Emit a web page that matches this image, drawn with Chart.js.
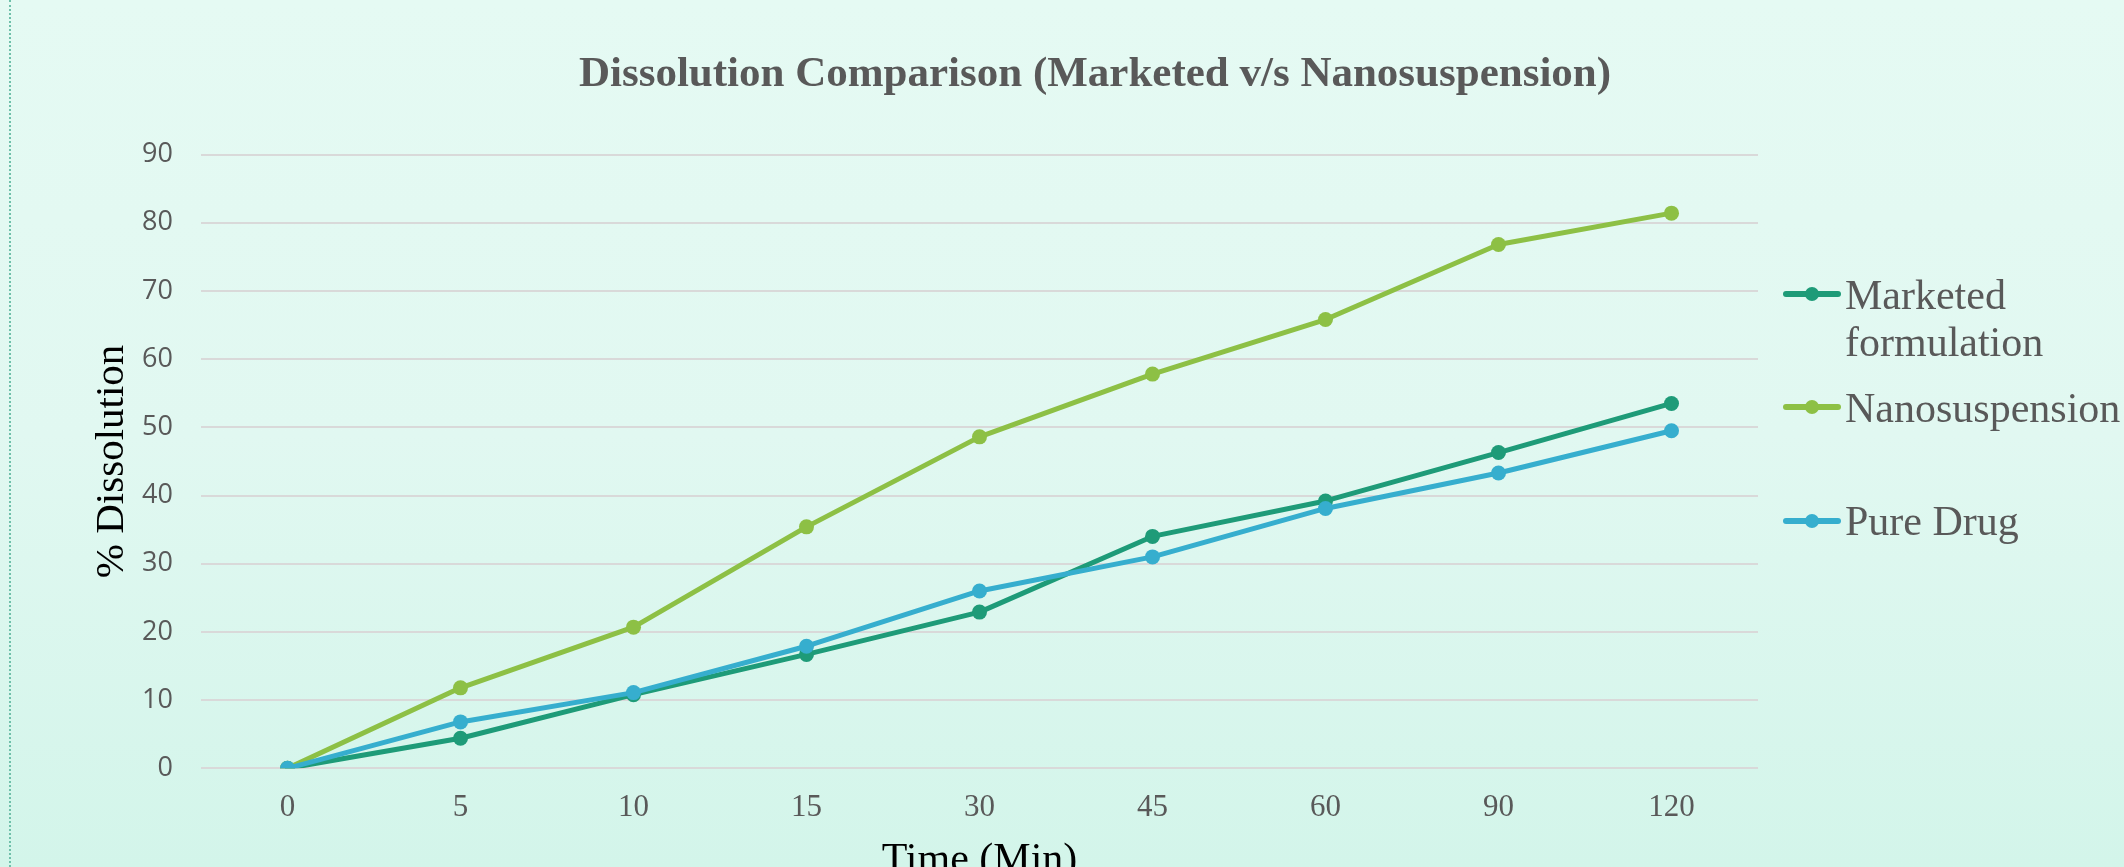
<!DOCTYPE html>
<html>
<head>
<meta charset="utf-8">
<script src="https://cdn.jsdelivr.net/npm/chart.js@4.4.1/dist/chart.umd.min.js"></script>
<style>
  html, body { margin: 0; padding: 0; overflow: hidden; }
  body { width: 2124px; height: 867px; background: linear-gradient(to bottom, #e5faf3 0%, #e1f8f1 50%, #d3f5ea 100%); position: relative; }
  #wrap { position: absolute; left: 0; top: 0; width: 2124px; height: 867px; }
  #edge { position: absolute; left: 9px; top: 0; height: 867px; border-left: 2px dotted #6fc0aa; }
</style>
</head>
<body>
<div id="edge"></div>
<div id="wrap"><canvas id="c"></canvas></div>
<script>
const chartTitle = 'Dissolution Comparison (Marketed v/s Nanosuspension)';
const xAxisTitle = 'Time (Min)';
const yAxisTitle = '% Dissolution';
const categories = ['0', '5', '10', '15', '30', '45', '60', '90', '120'];
const seriesNames = ['Marketed formulation', 'Nanosuspension', 'Pure Drug'];
const legendLines = [['Marketed', 'formulation'], ['Nanosuspension'], ['Pure Drug']];
const marketed = [0, 4.4, 10.8, 16.7, 22.9, 34.0, 39.2, 46.3, 53.5];
const nano = [0, 11.8, 20.7, 35.4, 48.6, 57.8, 65.8, 76.8, 81.4];
const pure = [0, 6.8, 11.1, 17.9, 26.0, 31.0, 38.1, 43.3, 49.5];
const yTicks = [0, 10, 20, 30, 40, 50, 60, 70, 80, 90];
const colors = ['#1e9b78', '#8dc045', '#36aece'];

const serif = '"Liberation Serif", "Times New Roman", serif';
const sans = '"Open Sans", "Noto Sans", sans-serif';
const grey = '#595959';

function ds(label, data, color, order) {
  return {
    label, data, order,
    borderColor: color, backgroundColor: color,
    pointBackgroundColor: color, pointBorderColor: color,
    borderWidth: 5, pointRadius: 7.5, pointBorderWidth: 0,
    pointHoverRadius: 7.5, tension: 0, fill: false,
    borderCapStyle: 'round', borderJoinStyle: 'round'
  };
}

const titlePlugin = {
  id: 'titleAndLegend',
  afterDraw(chart) {
    const ctx = chart.ctx;
    ctx.save();
    ctx.fillStyle = grey;
    ctx.font = 'bold 43px ' + serif;
    ctx.textAlign = 'center';
    ctx.textBaseline = 'alphabetic';
    ctx.fillText(chartTitle, 1095, 86);

    // legend
    const markerY = [294, 407, 521];
    const baseY = [309, 422, 535];
    ctx.font = '42px ' + serif;
    ctx.textAlign = 'left';
    for (let i = 0; i < seriesNames.length; i++) {
      const y = markerY[i];
      ctx.strokeStyle = colors[i];
      ctx.lineWidth = 6;
      ctx.lineCap = 'round';
      ctx.beginPath();
      ctx.moveTo(1786, y);
      ctx.lineTo(1838, y);
      ctx.stroke();
      ctx.fillStyle = colors[i];
      ctx.beginPath();
      ctx.arc(1812, y, 7, 0, Math.PI * 2);
      ctx.fill();
      ctx.fillStyle = grey;
      legendLines[i].forEach((t, k) => ctx.fillText(t, 1845, baseY[i] + k * 47));
    }
    ctx.restore();
  }
};

new Chart(document.getElementById('c'), {
  type: 'line',
  data: {
    labels: categories,
    datasets: [
      ds(seriesNames[0], marketed, colors[0], 3),
      ds(seriesNames[1], nano, colors[1], 2),
      ds(seriesNames[2], pure, colors[2], 1)
    ]
  },
  options: {
    responsive: true,
    maintainAspectRatio: false,
    animation: false,
    layout: { padding: { top: 154.5, right: 366, bottom: 0, left: 0 } },
    plugins: {
      legend: { display: false },
      title: { display: false },
      tooltip: { enabled: false }
    },
    scales: {
      x: {
        type: 'category',
        offset: true,
        grid: { display: false, drawTicks: false },
        border: { display: false },
        ticks: { color: grey, font: { family: serif, size: 31 }, padding: 21, maxRotation: 0, autoSkip: false },
        title: { display: true, text: xAxisTitle, color: '#000000', font: { family: serif, size: 42 }, padding: { top: 0, bottom: -19 } },
        afterFit(scale) { scale.height = 98.7; }
      },
      y: {
        min: 0, max: 90,
        afterBuildTicks(scale) { scale.ticks = yTicks.map(v => ({ value: v })); },
        grid: { color: '#d9d9d9', lineWidth: 2, drawTicks: false },
        border: { display: false },
        ticks: { color: grey, font: { family: sans, size: 27 }, padding: 28 },
        title: { display: true, text: yAxisTitle, color: '#000000', font: { family: serif, size: 41 }, padding: { top: 88, bottom: 0 } },
        afterFit(scale) { scale.width = 201; }
      }
    }
  },
  plugins: [titlePlugin]
});
</script>
</body>
</html>
